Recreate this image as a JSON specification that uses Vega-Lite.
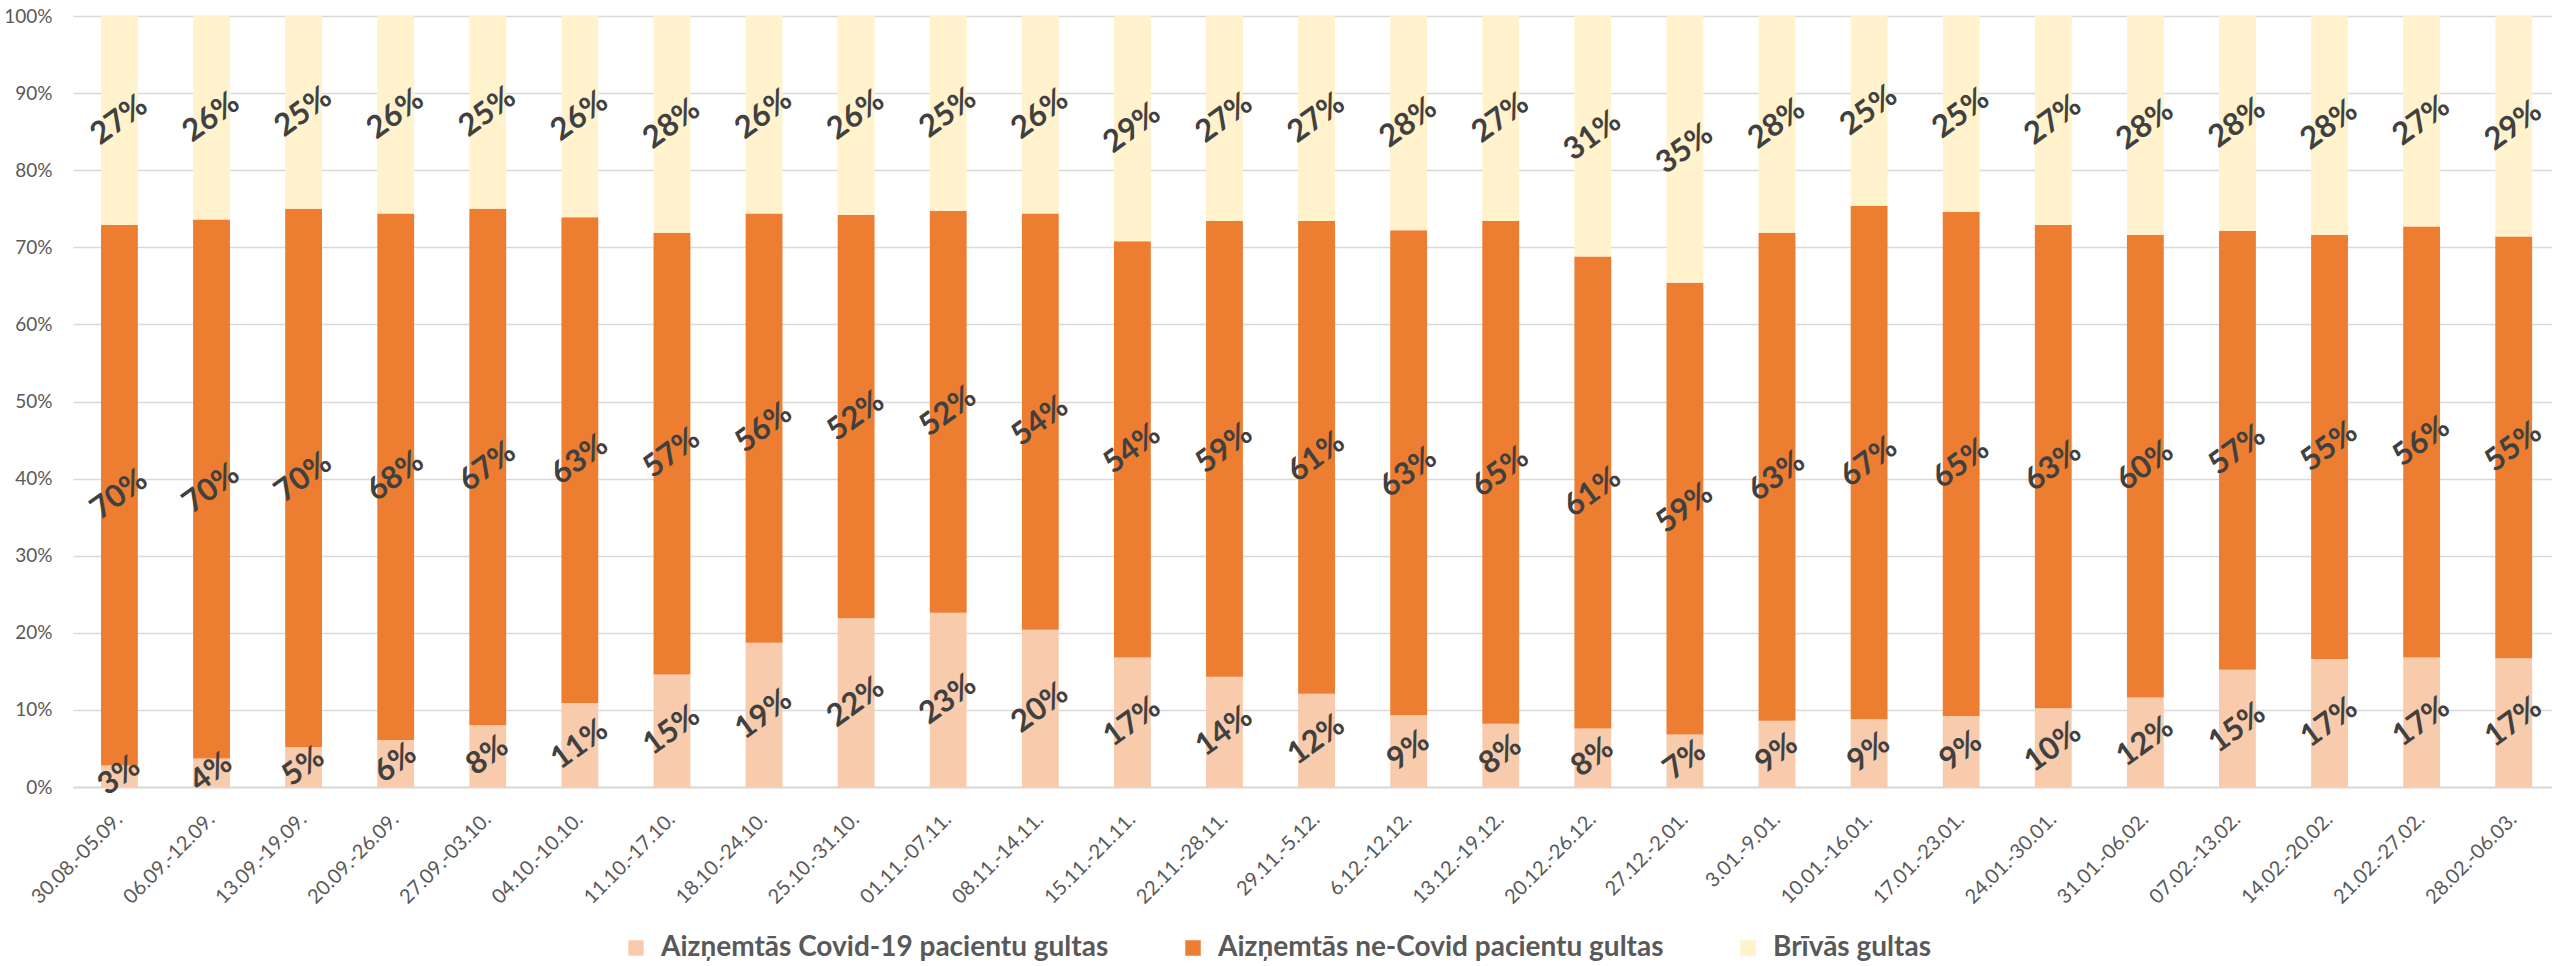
{
  "$schema": "https://vega.github.io/schema/vega-lite/v6.json",
  "autosize": {"type": "none"},
  "padding": {"left": 73, "top": 16, "right": 0, "bottom": 179},
  "width": 2479,
  "height": 771,
  "background": "white",
  "config": {"view": {"stroke": null}},
  "data": {"values": [
    {"w":"30.08.-05.09.","c":"Aizņemtās Covid-19 pacientu gultas","v":0.028},
    {"w":"30.08.-05.09.","c":"Aizņemtās ne-Covid pacientu gultas","v":0.701},
    {"w":"30.08.-05.09.","c":"Brīvās gultas","v":0.271},
    {"w":"06.09.-12.09.","c":"Aizņemtās Covid-19 pacientu gultas","v":0.037},
    {"w":"06.09.-12.09.","c":"Aizņemtās ne-Covid pacientu gultas","v":0.699},
    {"w":"06.09.-12.09.","c":"Brīvās gultas","v":0.264},
    {"w":"13.09.-19.09.","c":"Aizņemtās Covid-19 pacientu gultas","v":0.052},
    {"w":"13.09.-19.09.","c":"Aizņemtās ne-Covid pacientu gultas","v":0.698},
    {"w":"13.09.-19.09.","c":"Brīvās gultas","v":0.250},
    {"w":"20.09.-26.09.","c":"Aizņemtās Covid-19 pacientu gultas","v":0.061},
    {"w":"20.09.-26.09.","c":"Aizņemtās ne-Covid pacientu gultas","v":0.683},
    {"w":"20.09.-26.09.","c":"Brīvās gultas","v":0.256},
    {"w":"27.09.-03.10.","c":"Aizņemtās Covid-19 pacientu gultas","v":0.080},
    {"w":"27.09.-03.10.","c":"Aizņemtās ne-Covid pacientu gultas","v":0.670},
    {"w":"27.09.-03.10.","c":"Brīvās gultas","v":0.250},
    {"w":"04.10.-10.10.","c":"Aizņemtās Covid-19 pacientu gultas","v":0.109},
    {"w":"04.10.-10.10.","c":"Aizņemtās ne-Covid pacientu gultas","v":0.630},
    {"w":"04.10.-10.10.","c":"Brīvās gultas","v":0.261},
    {"w":"11.10.-17.10.","c":"Aizņemtās Covid-19 pacientu gultas","v":0.146},
    {"w":"11.10.-17.10.","c":"Aizņemtās ne-Covid pacientu gultas","v":0.573},
    {"w":"11.10.-17.10.","c":"Brīvās gultas","v":0.281},
    {"w":"18.10.-24.10.","c":"Aizņemtās Covid-19 pacientu gultas","v":0.187},
    {"w":"18.10.-24.10.","c":"Aizņemtās ne-Covid pacientu gultas","v":0.557},
    {"w":"18.10.-24.10.","c":"Brīvās gultas","v":0.256},
    {"w":"25.10.-31.10.","c":"Aizņemtās Covid-19 pacientu gultas","v":0.219},
    {"w":"25.10.-31.10.","c":"Aizņemtās ne-Covid pacientu gultas","v":0.523},
    {"w":"25.10.-31.10.","c":"Brīvās gultas","v":0.258},
    {"w":"01.11.-07.11.","c":"Aizņemtās Covid-19 pacientu gultas","v":0.226},
    {"w":"01.11.-07.11.","c":"Aizņemtās ne-Covid pacientu gultas","v":0.521},
    {"w":"01.11.-07.11.","c":"Brīvās gultas","v":0.253},
    {"w":"08.11.-14.11.","c":"Aizņemtās Covid-19 pacientu gultas","v":0.204},
    {"w":"08.11.-14.11.","c":"Aizņemtās ne-Covid pacientu gultas","v":0.540},
    {"w":"08.11.-14.11.","c":"Brīvās gultas","v":0.256},
    {"w":"15.11.-21.11.","c":"Aizņemtās Covid-19 pacientu gultas","v":0.168},
    {"w":"15.11.-21.11.","c":"Aizņemtās ne-Covid pacientu gultas","v":0.540},
    {"w":"15.11.-21.11.","c":"Brīvās gultas","v":0.292},
    {"w":"22.11.-28.11.","c":"Aizņemtās Covid-19 pacientu gultas","v":0.143},
    {"w":"22.11.-28.11.","c":"Aizņemtās ne-Covid pacientu gultas","v":0.591},
    {"w":"22.11.-28.11.","c":"Brīvās gultas","v":0.266},
    {"w":"29.11.-5.12.","c":"Aizņemtās Covid-19 pacientu gultas","v":0.121},
    {"w":"29.11.-5.12.","c":"Aizņemtās ne-Covid pacientu gultas","v":0.613},
    {"w":"29.11.-5.12.","c":"Brīvās gultas","v":0.266},
    {"w":"6.12.-12.12.","c":"Aizņemtās Covid-19 pacientu gultas","v":0.093},
    {"w":"6.12.-12.12.","c":"Aizņemtās ne-Covid pacientu gultas","v":0.629},
    {"w":"6.12.-12.12.","c":"Brīvās gultas","v":0.278},
    {"w":"13.12.-19.12.","c":"Aizņemtās Covid-19 pacientu gultas","v":0.082},
    {"w":"13.12.-19.12.","c":"Aizņemtās ne-Covid pacientu gultas","v":0.652},
    {"w":"13.12.-19.12.","c":"Brīvās gultas","v":0.266},
    {"w":"20.12.-26.12.","c":"Aizņemtās Covid-19 pacientu gultas","v":0.076},
    {"w":"20.12.-26.12.","c":"Aizņemtās ne-Covid pacientu gultas","v":0.612},
    {"w":"20.12.-26.12.","c":"Brīvās gultas","v":0.312},
    {"w":"27.12.-2.01.","c":"Aizņemtās Covid-19 pacientu gultas","v":0.068},
    {"w":"27.12.-2.01.","c":"Aizņemtās ne-Covid pacientu gultas","v":0.586},
    {"w":"27.12.-2.01.","c":"Brīvās gultas","v":0.346},
    {"w":"3.01.-9.01.","c":"Aizņemtās Covid-19 pacientu gultas","v":0.086},
    {"w":"3.01.-9.01.","c":"Aizņemtās ne-Covid pacientu gultas","v":0.633},
    {"w":"3.01.-9.01.","c":"Brīvās gultas","v":0.281},
    {"w":"10.01.-16.01.","c":"Aizņemtās Covid-19 pacientu gultas","v":0.088},
    {"w":"10.01.-16.01.","c":"Aizņemtās ne-Covid pacientu gultas","v":0.666},
    {"w":"10.01.-16.01.","c":"Brīvās gultas","v":0.246},
    {"w":"17.01.-23.01.","c":"Aizņemtās Covid-19 pacientu gultas","v":0.092},
    {"w":"17.01.-23.01.","c":"Aizņemtās ne-Covid pacientu gultas","v":0.654},
    {"w":"17.01.-23.01.","c":"Brīvās gultas","v":0.254},
    {"w":"24.01.-30.01.","c":"Aizņemtās Covid-19 pacientu gultas","v":0.102},
    {"w":"24.01.-30.01.","c":"Aizņemtās ne-Covid pacientu gultas","v":0.627},
    {"w":"24.01.-30.01.","c":"Brīvās gultas","v":0.271},
    {"w":"31.01.-06.02.","c":"Aizņemtās Covid-19 pacientu gultas","v":0.116},
    {"w":"31.01.-06.02.","c":"Aizņemtās ne-Covid pacientu gultas","v":0.600},
    {"w":"31.01.-06.02.","c":"Brīvās gultas","v":0.284},
    {"w":"07.02.-13.02.","c":"Aizņemtās Covid-19 pacientu gultas","v":0.152},
    {"w":"07.02.-13.02.","c":"Aizņemtās ne-Covid pacientu gultas","v":0.569},
    {"w":"07.02.-13.02.","c":"Brīvās gultas","v":0.279},
    {"w":"14.02.-20.02.","c":"Aizņemtās Covid-19 pacientu gultas","v":0.166},
    {"w":"14.02.-20.02.","c":"Aizņemtās ne-Covid pacientu gultas","v":0.550},
    {"w":"14.02.-20.02.","c":"Brīvās gultas","v":0.284},
    {"w":"21.02.-27.02.","c":"Aizņemtās Covid-19 pacientu gultas","v":0.168},
    {"w":"21.02.-27.02.","c":"Aizņemtās ne-Covid pacientu gultas","v":0.559},
    {"w":"21.02.-27.02.","c":"Brīvās gultas","v":0.273},
    {"w":"28.02.-06.03.","c":"Aizņemtās Covid-19 pacientu gultas","v":0.167},
    {"w":"28.02.-06.03.","c":"Aizņemtās ne-Covid pacientu gultas","v":0.547},
    {"w":"28.02.-06.03.","c":"Brīvās gultas","v":0.286}
  ]},
  "transform": [
    {"stack": "v", "groupby": ["w"], "sort": [{"field": "c", "order": "ascending"}], "as": ["v0", "v1"]},
    {"calculate": "(datum.v0 + datum.v1) / 2", "as": "vm"}
  ],
  "encoding": {
    "x": {
      "field": "w", "type": "nominal", "sort": null,
      "scale": {"paddingInner": 0.6, "paddingOuter": 0.26, "align": 0.585},
      "axis": {
        "title": null, "labelAngle": -45, "labelAlign": "right", "labelBaseline": "middle",
        "labelFont": "Lato", "labelFontSize": 20, "labelColor": "#595959",
        "ticks": false, "domainColor": "#D9D9D9", "domainWidth": 2, "labelPadding": 29, "grid": false
      }
    }
  },
  "layer": [
    {
      "mark": {"type": "bar"},
      "encoding": {
        "y": {
          "field": "v0", "type": "quantitative",
          "scale": {"domain": [0, 1], "nice": false},
          "axis": {
            "title": null, "format": ".0%", "values": [0, 0.1, 0.2, 0.3, 0.4, 0.5, 0.6, 0.7, 0.8, 0.9, 1],
            "labelFont": "Lato", "labelFontSize": 19, "labelColor": "#595959",
            "ticks": false, "domain": false, "gridColor": "#D9D9D9", "gridWidth": 1.5, "labelPadding": 21
          }
        },
        "y2": {"field": "v1"},
        "color": {
          "field": "c", "type": "nominal",
          "scale": {
            "domain": ["Aizņemtās Covid-19 pacientu gultas", "Aizņemtās ne-Covid pacientu gultas", "Brīvās gultas"],
            "range": ["#F8CBAD", "#ED7D31", "#FFF2CC"]
          },
          "legend": {
            "title": null, "orient": "none", "legendX": 549, "legendY": 918,
            "direction": "horizontal", "columns": 3,
            "symbolType": "square", "symbolSize": 240, "symbolStrokeWidth": 0,
            "labelFont": "Lato", "labelFontWeight": "bold", "labelFontSize": 28, "labelColor": "#595959",
            "columnPadding": 70, "labelOffset": 11, "labelLimit": 0
          }
        }
      }
    },
    {
      "mark": {"type": "text", "angle": -36, "font": "Lato", "fontWeight": "bold", "fontSize": 31, "color": "#404040", "align": "center", "baseline": "middle"},
      "encoding": {
        "y": {"field": "vm", "type": "quantitative"},
        "text": {"field": "v", "type": "quantitative", "format": ".0%"}
      }
    }
  ]
}
